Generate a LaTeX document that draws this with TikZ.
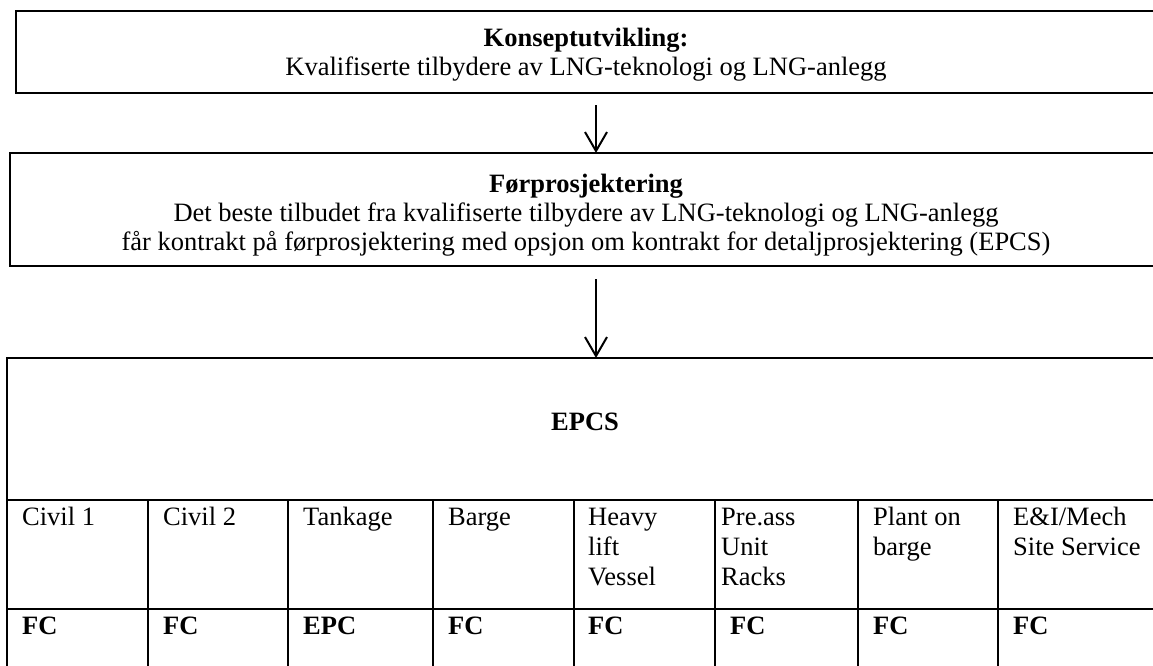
\documentclass[tikz,border=0pt]{standalone}
\usepackage{fontspec}
\setmainfont{Liberation Serif}
\usetikzlibrary{arrows.meta}
\begin{document}
\begin{tikzpicture}[x=1pt,y=-1pt,
  frame/.style={draw, line width=2pt, inner sep=0pt, outer sep=0pt},
  txt/.style={font=\fontsize{26.5pt}{30pt}\selectfont, inner sep=0pt, anchor=base},
  bold/.style={font=\fontsize{26.5pt}{30pt}\selectfont\bfseries},
  cell/.style={txt, anchor=base west, align=left},
  grid/.style={line width=2.4pt},
  arr/.style={line width=2pt, -{Straight Barb[length=19pt,width=22pt]}}]
\clip (0,0) rectangle (1153,665);

% Stage 1: concept development
\node[frame, minimum width=1140pt, minimum height=82pt] (konsept) at (586,52) {};
\node[txt, bold] (konseptT) at (586,46) {Konseptutvikling:};
\node[txt] (konseptB) at (586,75) {Kvalifiserte tilbydere av LNG-teknologi og LNG-anlegg};

% Stage 2: pre-engineering
\node[frame, minimum width=1152pt, minimum height=113pt] (foer) at (586,209.5) {};
\node[txt, bold] (foerT) at (586,192) {Førprosjektering};
\node[txt] (foerB1) at (586,221) {Det beste tilbudet fra kvalifiserte tilbydere av LNG-teknologi og LNG-anlegg};
\node[txt] (foerB2) at (586,250) {får kontrakt på førprosjektering med opsjon om kontrakt for detaljprosjektering (EPCS)};

% Stage 3: EPCS table
\node[draw, grid, inner sep=0pt, outer sep=0pt, minimum width=1163pt, minimum height=342pt] (epcs) at (588.5,529) {};
\node[txt, bold] (epcsT) at (585,430) {EPCS};

\coordinate (r1) at (0,500);
\coordinate (r2) at (0,609);
\draw[grid] (epcs.west |- r1) -- (epcs.east |- r1);
\draw[grid] (epcs.west |- r2) -- (epcs.east |- r2);
\foreach \cx in {148,288,433,574,715,858,998}
  \draw[grid] (\cx,500) -- (\cx,700);

% Arrows between stages
\coordinate (a1) at (596,105);
\draw[arr] (a1) -- (a1 |- foer.north);
\coordinate (a2) at (596,279);
\draw[arr] (a2) -- (a2 |- epcs.north);

% Work packages (a multi-line node sits on its last baseline)
\node[cell] (c1) at (22,525) {Civil 1};
\node[cell] (c2) at (163,525) {Civil 2};
\node[cell] (c3) at (303,525) {Tankage};
\node[cell] (c4) at (448,525) {Barge};
\node[cell] (c5) at (588,585) {Heavy\\lift\\Vessel};
\node[cell] (c6) at (721,585) {Pre.ass\\Unit\\Racks};
\node[cell] (c7) at (873,555) {Plant on\\barge};
\node[cell] (c8) at (1013,555) {E\&I/Mech\\Site Service};

% Contract forms
\foreach \cx/\lab [count=\i] in {22/FC,163/FC,303/EPC,448/FC,588/FC,730/FC,873/FC,1013/FC}
  \node[cell, bold] (f\i) at (\cx,634) {\lab};
\end{tikzpicture}
\end{document}
